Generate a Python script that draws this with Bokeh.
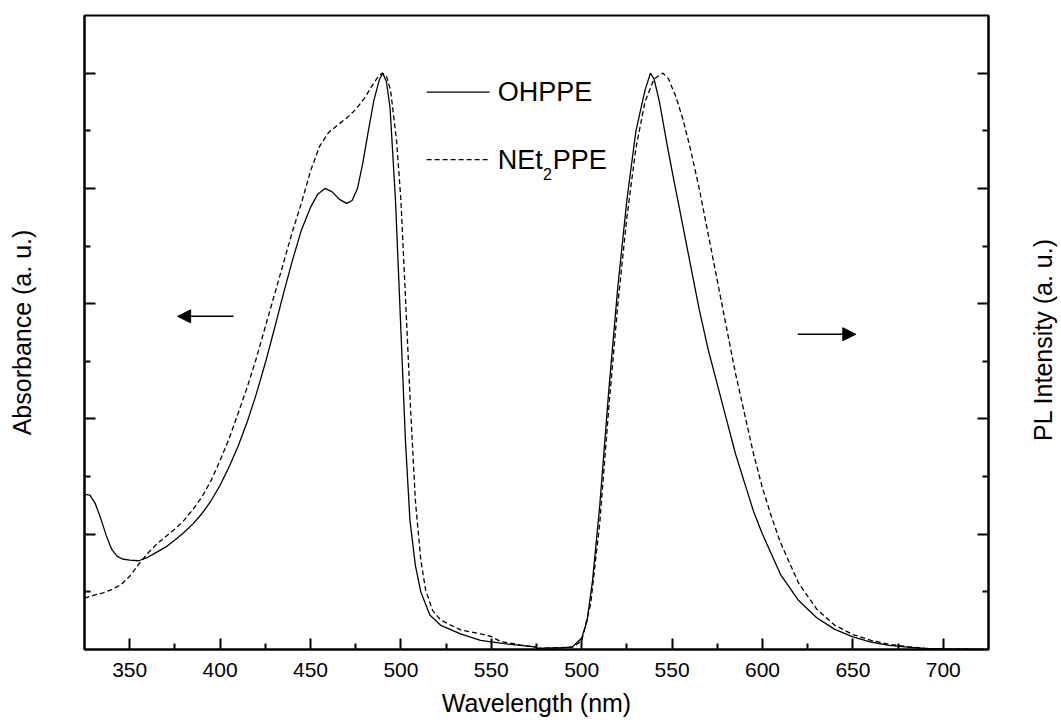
import math
from bokeh.plotting import figure
from bokeh.layouts import row
from bokeh.models import Range1d, LinearAxis, FixedTicker, Label, Arrow, NormalHead
from bokeh.core.properties import value
from bokeh.embed import file_html
from bokeh.resources import INLINE

# ---------------- data ----------------
# Absorbance, normalised
abs_wl = [325, 328, 331, 334, 337, 340, 343, 346, 350, 355, 360, 365, 370, 375, 380,
          385, 390, 395, 400, 405, 410, 415, 420, 425, 430, 435, 440, 445, 450, 454,
          458, 462, 466, 470, 473, 476, 479, 482, 485, 488, 490, 492, 494, 497, 500,
          502.5, 505, 508, 511, 516, 522, 533, 544, 555, 566, 575]
abs_ohppe = [0.269, 0.268, 0.253, 0.227, 0.198, 0.174, 0.162, 0.157, 0.155, 0.154, 0.160,
             0.169, 0.178, 0.190, 0.203, 0.218, 0.236, 0.258, 0.285, 0.317, 0.353, 0.395,
             0.443, 0.497, 0.556, 0.617, 0.675, 0.728, 0.767, 0.79, 0.80, 0.794, 0.781,
             0.774, 0.779, 0.80, 0.845, 0.90, 0.952, 0.988, 1.0, 0.985, 0.94, 0.78, 0.554,
             0.363, 0.224, 0.146, 0.10, 0.06, 0.042, 0.027, 0.016, 0.011, 0.007, 0.004]

abs_wl2 = [325, 330, 335, 340, 345, 350, 355, 360, 365, 370, 375, 380, 385, 390, 395,
           400, 405, 410, 415, 420, 425, 430, 435, 440, 445, 450, 455, 460, 465, 470,
           475, 480, 484, 487, 489.5, 492, 494.3, 497.6, 500, 502.6, 505.4, 508, 511,
           513.7, 517.5, 522, 533, 544, 549.6, 555, 566, 575]
abs_net2 = [0.089, 0.094, 0.098, 0.104, 0.112, 0.127, 0.148, 0.167, 0.183, 0.196, 0.209,
            0.224, 0.243, 0.265, 0.293, 0.328, 0.366, 0.41, 0.455, 0.505, 0.56, 0.615,
            0.67, 0.725, 0.775, 0.83, 0.873, 0.897, 0.91, 0.922, 0.937, 0.957, 0.978,
            0.992, 1.0, 0.995, 0.97, 0.883, 0.78, 0.606, 0.415, 0.259, 0.155, 0.103,
            0.068, 0.051, 0.034, 0.027, 0.023, 0.014, 0.008, 0.004]

# Photoluminescence, normalised
pl_wl = [475, 490, 495, 500, 503, 506, 510, 515, 520, 525, 530, 535, 538, 540, 543, 547,
         550, 555, 560, 565, 570, 575, 580, 585, 590, 595, 600, 610, 620, 630, 640, 650,
         660, 670, 680, 690, 700, 725]
pl_ohppe = [0.002, 0.003, 0.005, 0.02, 0.05, 0.12, 0.25, 0.45, 0.63, 0.78, 0.90, 0.97,
            1.0, 0.99, 0.95, 0.88, 0.83, 0.75, 0.67, 0.59, 0.52, 0.46, 0.40, 0.34, 0.29,
            0.24, 0.20, 0.13, 0.085, 0.055, 0.035, 0.022, 0.013, 0.007, 0.004, 0.002,
            0.001, 0.0]

pl_wl2 = [475, 495, 500, 505, 510, 515, 520, 525, 530, 535, 540, 545, 548, 552, 556, 560,
          565, 570, 575, 580, 585, 590, 595, 600, 605, 610, 620, 630, 640, 650, 660, 670,
          680, 690, 700, 725]
pl_net2 = [0.002, 0.004, 0.015, 0.08, 0.22, 0.42, 0.60, 0.75, 0.87, 0.95, 0.99, 1.0, 0.99,
           0.96, 0.92, 0.87, 0.80, 0.72, 0.64, 0.56, 0.48, 0.41, 0.34, 0.28, 0.23, 0.185,
           0.115, 0.07, 0.042, 0.026, 0.016, 0.009, 0.005, 0.002, 0.001, 0.0]

# the PL panel is drawn 100 nm to the right of the absorbance panel (broken axis)
PL_SHIFT = 100
tick_pos = [350, 400, 450, 500, 550, 600, 650, 700, 750, 800]
tick_labels = ["350", "400", "450", "500", "550", "500", "550", "600", "650", "700"]
minor_pos = [375, 425, 475, 525, 575, 625, 675, 725, 775]
y_major = [0.2, 0.4, 0.6, 0.8, 1.0]
y_minor = [0.1, 0.3, 0.5, 0.7, 0.9]

FONT = "Liberation Sans"

p = figure(width=998, height=720, output_backend="svg", toolbar_location=None,
           x_range=Range1d(325, 825), y_range=Range1d(0, 1.1),
           min_border_left=84, min_border_right=10, min_border_top=15, min_border_bottom=71,
           x_axis_label="Wavelength (nm)", y_axis_label="Absorbance (a. u.)")
p.grid.visible = False
p.outline_line_color = "black"
p.outline_line_width = 2
p.background_fill_color = "white"
p.border_fill_color = "white"

# x axis
xa = p.xaxis[0]
xa.ticker = FixedTicker(ticks=tick_pos, minor_ticks=minor_pos)
xa.major_label_overrides = {t: l for t, l in zip(tick_pos, tick_labels)}
xa.major_label_text_font = FONT
xa.major_label_text_font_size = "21px"
xa.major_label_text_color = "black"
xa.major_label_standoff = 13
xa.axis_label_text_font = FONT
xa.axis_label_text_font_size = "25px"
xa.axis_label_text_font_style = "normal"
xa.axis_label_text_color = "black"
xa.axis_label_standoff = 9

# left y axis (ticks only, no tick labels)
ya = p.yaxis[0]
ya.ticker = FixedTicker(ticks=y_major, minor_ticks=y_minor)
ya.major_label_text_color = None
ya.major_label_text_font_size = "1px"
ya.major_label_standoff = 0
ya.axis_label_text_font = FONT
ya.axis_label_text_font_size = "25px"
ya.axis_label_text_font_style = "normal"
ya.axis_label_text_color = "black"
ya.axis_label_standoff = 49

# right y axis (ticks only)
ra = LinearAxis(ticker=FixedTicker(ticks=y_major, minor_ticks=y_minor))
ra.major_label_text_color = None
ra.major_label_text_font_size = "1px"
ra.major_label_standoff = 0
p.add_layout(ra, "right")

for ax in (xa, ya, ra):
    ax.axis_line_width = 2
    ax.axis_line_color = "black"
    ax.major_tick_line_width = 2
    ax.minor_tick_line_width = 2
    ax.major_tick_line_color = "black"
    ax.minor_tick_line_color = "black"
    ax.major_tick_in = 11
    ax.major_tick_out = 0
    ax.minor_tick_in = 6
    ax.minor_tick_out = 0

# curves
p.line(abs_wl, abs_ohppe, line_color="black", line_width=1.3)
p.line(abs_wl2, abs_net2, line_color="black", line_width=1.3, line_dash="5 3")
p.line([w + PL_SHIFT for w in pl_wl], pl_ohppe, line_color="black", line_width=1.3)
p.line([w + PL_SHIFT for w in pl_wl2], pl_net2, line_color="black", line_width=1.3,
       line_dash="5 3")

# legend (drawn by hand, to allow the subscript)
p.segment(x0=[514.2], y0=[0.967], x1=[549.1], y1=[0.967], line_color="black", line_width=1.3)
p.segment(x0=[514.2], y0=[0.850], x1=[549.1], y1=[0.850], line_color="black", line_width=1.3,
          line_dash="5 3")
for txt, x, y, size in [("OHPPE", 553.5, 0.967, "27px"), ("NEt", 553.5, 0.850, "27px"),
                        ("2", 578.6, 0.825, "16px"), ("PPE", 584.0, 0.850, "27px")]:
    p.add_layout(Label(x=x, y=y, text=txt, text_font=FONT, text_font_size=size,
                       text_color="black", text_baseline="middle", text_align="left"))

# arrows
p.add_layout(Arrow(x_start=407.4, y_start=0.578, x_end=376.5, y_end=0.578,
                   line_color="black", line_width=1.5,
                   end=NormalHead(size=13, fill_color="black", line_color="black")))
p.add_layout(Arrow(x_start=719.5, y_start=0.547, x_end=751.6, y_end=0.547,
                   line_color="black", line_width=1.5,
                   end=NormalHead(size=13, fill_color="black", line_color="black")))

# right-hand title strip (text reading upwards, as in the reference)
p2 = figure(width=63, height=720, output_backend="svg", toolbar_location=None,
            x_range=Range1d(0, 63), y_range=Range1d(0, 720),
            x_axis_type=None, y_axis_type=None, min_border=0)
p2.outline_line_color = None
p2.background_fill_color = "white"
p2.border_fill_color = "white"
p2.text(x=[44], y=[352], text=["PL Intensity (a. u.)"], angle=math.pi / 2,
        text_align="center", text_baseline="middle", text_color="black",
        text_font=value(FONT), text_font_size=value("25px"))

layout = row(p, p2, spacing=0)
open("out.html", "w").write(file_html(layout, INLINE))
